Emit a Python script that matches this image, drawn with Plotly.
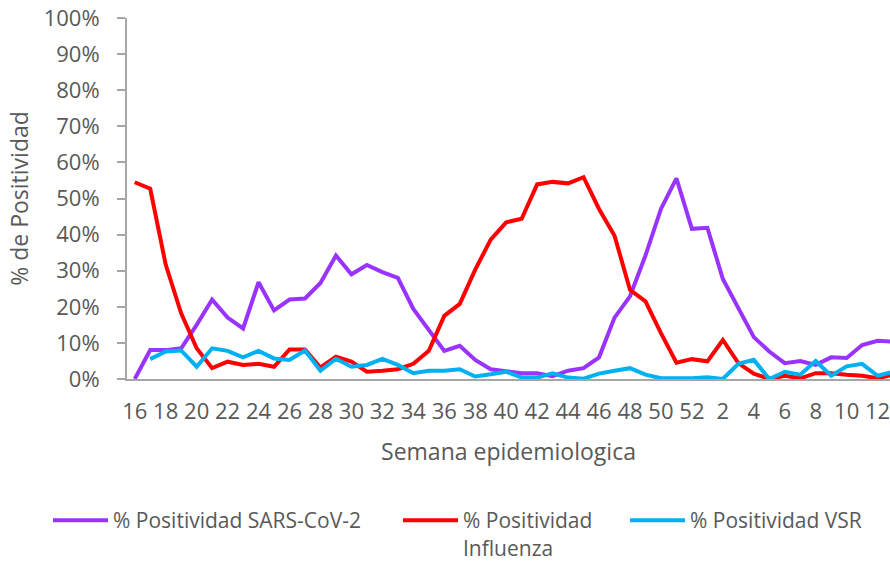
import plotly.graph_objects as go

weeks = [str(w) for w in range(16, 53)] + [str(w) for w in range(1, 14)]

sars = [0, 8, 8, 8.5, 15, 22, 17, 14, 26.8, 19, 22, 22.3, 26.6, 34.2, 29, 31.6,
        29.6, 28, 19.4, 13.6, 7.8, 9.2, 5.3, 2.7, 2.1, 1.6, 1.6, 0.8, 2.3, 3, 6,
        17, 22.9, 34.2, 47.1, 55.6, 41.6, 41.9, 27.7, 19.4, 11.6, 7.6, 4.4, 5,
        3.9, 6, 5.8, 9.4, 10.6, 10.3]

flu = [54.5, 52.7, 31.7, 18.2, 8.5, 3, 4.8, 3.9, 4.2, 3.4, 8.2, 8.2, 3.2, 6.2,
       4.8, 2, 2.3, 2.7, 4.2, 7.8, 17.5, 20.8, 30.3, 38.6, 43.4, 44.4, 53.9,
       54.6, 54.2, 55.9, 47.1, 39.7, 24.7, 21.5, 12.7, 4.5, 5.5, 4.9, 10.8, 4.4,
       1.5, 0, 0.9, 0.2, 1.6, 1.6, 1.2, 0.9, 0.2, 1.2]

vsr = [None, 5.5, 7.6, 7.9, 3.4, 8.5, 7.8, 6, 7.8, 5.7, 5.3, 7.9, 2.3, 5.6, 3.4,
       3.9, 5.6, 3.9, 1.6, 2.3, 2.3, 2.7, 0.7, 1.3, 2, 0.4, 0.4, 1.6, 0.4, 0.1,
       1.5, 2.3, 3, 1.2, 0.2, 0.2, 0.2, 0.5, 0, 4.2, 5.3, 0, 2, 1.2, 5, 0.9, 3.5,
       4.2, 0.9, 2]

tick_labels = weeks[::2]
y_ticks = list(range(0, 101, 10))

names = ["% Positividad SARS-CoV-2", "% Positividad<br>Influenza", "% Positividad VSR"]
colors = ["#9933FF", "#FF0000", "#00B0F0"]
series = [sars, flu, vsr]
legends = ["legend", "legend2", "legend3"]

FONT = "Open Sans"
GREY = "#595959"

W, H = 890, 562

fig = go.Figure()
for name, col, vals, lg in zip(names, colors, series, legends):
    fig.add_trace(go.Scatter(x=weeks, y=vals, name=name, mode="lines",
                             line=dict(color=col, width=4),
                             legend=lg, connectgaps=False))

def leg(x):
    return dict(orientation="h", x=x / W, y=1 - 500 / H, xref="container", yref="container",
                xanchor="left", yanchor="top", valign="top",
                font=dict(family=FONT, size=21, color=GREY),
                bgcolor="rgba(0,0,0,0)", itemwidth=55)

fig.update_layout(
    width=W, height=H,
    margin=dict(l=127, r=0, t=18, b=183, autoexpand=False),
    paper_bgcolor="white", plot_bgcolor="white",
    font=dict(family=FONT, color=GREY),
    showlegend=True,
    legend=leg(48),
    legend2=leg(398),
    legend3=leg(625),
    xaxis=dict(type="category", categoryorder="array", categoryarray=weeks,
               range=[-0.5, 48.8], tickmode="array", tickvals=tick_labels,
               ticktext=tick_labels, showgrid=False, showline=True,
               linecolor="#A6A6A6", linewidth=2, ticks="", automargin=False,
               tickfont=dict(family=FONT, size=22, color=GREY),
               ticklabelstandoff=12, ticklabeloverflow="allow",
               title=dict(text="Semana epidemiologica",
                          font=dict(family=FONT, size=23, color=GREY),
                          standoff=19)),
    yaxis=dict(range=[0, 100], tickmode="array", tickvals=y_ticks,
               ticktext=[f"{v}%" for v in y_ticks], showgrid=False,
               showline=True, linecolor="#A6A6A6", linewidth=2, automargin=False,
               ticks="outside", ticklen=8, tickwidth=2, tickcolor="#A6A6A6",
               tickfont=dict(family=FONT, size=22, color=GREY),
               ticklabelstandoff=13, ticklabeloverflow="allow", zeroline=False,
               title=dict(text="% de Positividad",
                          font=dict(family=FONT, size=23, color=GREY),
                          standoff=9)),
)

fig.write_html("out.html", config={"displayModeBar": False},
               post_script="document.body.style.margin='0';document.body.style.overflow='hidden';")
